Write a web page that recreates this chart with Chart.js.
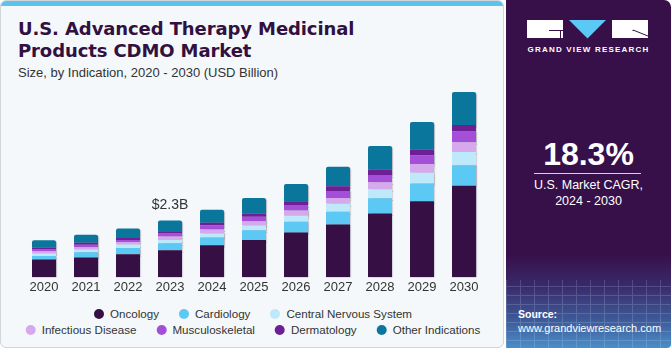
<!DOCTYPE html>
<html>
<head>
<meta charset="utf-8">
<script src="https://cdn.jsdelivr.net/npm/chart.js@4.4.1/dist/chart.umd.min.js"></script>
<style>
  html, body { margin:0; padding:0; width:671px; height:350px; overflow:hidden; background:#ffffff; font-family:"Liberation Sans", Arial, sans-serif; }
  #main { position:absolute; left:0; top:0; width:502px; height:346px; background:#f4f8fb; border:1px solid #d3d6d9; border-radius:6px; overflow:hidden; }
  #stripe { position:absolute; left:0; top:0; width:100%; height:5px; background:#5cc4ec; }
  #title { position:absolute; left:17px; top:17px; font-family:"DejaVu Sans", sans-serif; font-weight:bold; font-size:18px; line-height:21.6px; color:#32103f; white-space:nowrap; letter-spacing:-0.1px; }
  #subtitle { position:absolute; left:17px; top:64px; font-size:13px; line-height:15px; color:#333; white-space:nowrap; }
  #chartwrap { position:absolute; left:0; top:70px; width:500px; height:230px; }
  .lrow { position:absolute; left:252px; transform:translateX(-50%); display:flex; white-space:nowrap; font-size:11.6px; color:#333; }
  .litem { display:flex; align-items:center; margin:0 10px; }
  .dot { width:10px; height:10px; border-radius:50%; margin-right:6px; }
  #side { position:absolute; left:506px; top:0; width:165px; height:348px; border-top-right-radius:7px; border-bottom-right-radius:4px;
          background:linear-gradient(to bottom, #37104a 0px, #37104a 255px, #3a2a6a 285px, #3f5a98 320px, #4b8fc8 348px); overflow:hidden; color:#fff; }
  #grid { position:absolute; left:0; top:280px; width:100%; height:70px; opacity:0.18;
          background-image:repeating-linear-gradient(90deg, #cfe6ff 0 1px, transparent 1px 14px), repeating-linear-gradient(0deg, #cfe6ff 0 1px, transparent 1px 9px); }
  .blk { position:absolute; background:#fff; }
  #gvr { position:absolute; left:0; top:45px; width:165px; text-align:center; font-size:8px; font-weight:bold; letter-spacing:1.2px; }
  #cagr { position:absolute; left:0; top:136px; width:165px; text-align:center; font-size:32px; font-weight:bold; line-height:36px; }
  #cline { position:absolute; left:28px; top:173px; width:107px; height:1px; background:#d8d0e0; }
  #cagrtxt { position:absolute; left:0; top:177px; width:165px; text-align:center; font-size:12.5px; line-height:16px; }
  #src { position:absolute; left:12px; top:308px; font-size:10.5px; font-weight:bold; }
  #url { position:absolute; left:12px; top:322px; font-size:11px; }
</style>
</head>
<body>
<div id="main">
  <div id="stripe"></div>
  <div id="title">U.S. Advanced Therapy Medicinal<br>Products CDMO Market</div>
  <div id="subtitle">Size, by Indication, 2020 - 2030 (USD Billion)</div>
  <div id="chartwrap"><canvas id="c" width="500" height="230"></canvas></div>
  <div class="lrow" id="row1" style="top:306px"></div>
  <div class="lrow" id="row2" style="top:322px"></div>
</div>
<div id="side">
  <div id="grid"></div>
  <div class="blk" style="left:21px; top:20px; width:36px; height:18px;"></div>
  <div style="position:absolute; left:43px; top:30px; width:14px; height:1px; background:#37104a;"></div>
  <div style="position:absolute; left:54px; top:30px; width:1px; height:8px; background:#37104a;"></div>
  <svg style="position:absolute; left:63px; top:20px;" width="38" height="19"><polygon points="0,0 37,0 18.5,18.5" fill="#5bc8f5"/></svg>
  <div class="blk" style="left:106px; top:20px; width:36px; height:18px;"></div>
  <svg style="position:absolute; left:106px; top:20px;" width="36" height="18"><line x1="21" y1="10" x2="36" y2="16" stroke="#37104a" stroke-width="1"/><line x1="21" y1="10" x2="21" y2="11" stroke="#37104a" stroke-width="1"/></svg>
  <div id="gvr">GRAND VIEW RESEARCH</div>
  <div id="cagr">18.3%</div>
  <div id="cline"></div>
  <div id="cagrtxt">U.S. Market CAGR,<br>2024 - 2030</div>
  <div id="src">Source:</div>
  <div id="url">www.grandviewresearch.com</div>
</div>
<script>
const years = ['2020','2021','2022','2023','2024','2025','2026','2027','2028','2029','2030'];
const oncology      = [0.72, 0.80, 0.94, 1.10, 1.30, 1.51, 1.82, 2.14, 2.59, 3.09, 3.71];
const cardiology    = [0.14, 0.22, 0.25, 0.28, 0.31, 0.40, 0.43, 0.52, 0.62, 0.72, 0.84];
const cns           = [0.11, 0.11, 0.14, 0.13, 0.17, 0.19, 0.25, 0.32, 0.36, 0.43, 0.53];
const infectious    = [0.09, 0.09, 0.10, 0.15, 0.16, 0.17, 0.21, 0.24, 0.29, 0.36, 0.40];
const musculo       = [0.07, 0.10, 0.08, 0.12, 0.17, 0.19, 0.22, 0.28, 0.29, 0.35, 0.43];
const dermatology   = [0.08, 0.08, 0.08, 0.09, 0.10, 0.13, 0.16, 0.19, 0.22, 0.23, 0.27];
const other         = [0.29, 0.33, 0.39, 0.43, 0.53, 0.63, 0.69, 0.79, 0.96, 1.12, 1.34];
const seriesNames   = ['Oncology','Cardiology','Central Nervous System','Infectious Disease','Musculoskeletal','Dermatology','Other Indications'];
const seriesColors  = ['#361044','#5cc9f5','#bde9fa','#d6a9ec','#a34fd8','#6e1f96','#0b769c'];
const annotatedYear = '2023';

const seriesData = [oncology, cardiology, cns, infectious, musculo, dermatology, other];
const datasets = seriesNames.map((name, i) => ({
  label: name,
  data: seriesData[i],
  backgroundColor: seriesColors[i],
  borderWidth: 0,
  borderRadius: i === seriesNames.length - 1 ? {topLeft: 2, topRight: 2} : 0,
  borderSkipped: false,
  barPercentage: 0.8,
  categoryPercentage: 0.714
}));

const barShadow = {
  id: 'barShadow',
  beforeDatasetsDraw(chart) {
    const ctx = chart.ctx;
    ctx.save();
    ctx.shadowColor = 'rgba(70,60,90,0.35)';
    ctx.shadowOffsetX = 1;
    ctx.shadowOffsetY = 1;
    ctx.shadowBlur = 1;
  },
  afterDatasetsDraw(chart) {
    chart.ctx.restore();
  }
};

const totalLabel = {
  id: 'totalLabel',
  afterDatasetsDraw(chart) {
    const idx = chart.data.labels.indexOf(annotatedYear);
    if (idx < 0) return;
    let total = 0;
    chart.data.datasets.forEach(ds => total += ds.data[idx]);
    const x = chart.scales.x.getPixelForValue(idx);
    const y = chart.scales.y.getPixelForValue(total);
    const ctx = chart.ctx;
    ctx.save();
    ctx.font = '14px "Liberation Sans", Arial, sans-serif';
    ctx.fillStyle = '#333333';
    ctx.textAlign = 'center';
    ctx.textBaseline = 'middle';
    ctx.fillText('$' + total.toFixed(1) + 'B', x, y - 15);
    ctx.restore();
  }
};

const chart = new Chart(document.getElementById('c'), {
  type: 'bar',
  data: { labels: years, datasets },
  options: {
    responsive: false,
    animation: false,
    devicePixelRatio: 1,
    layout: { padding: { left: 22, right: 16, top: 9.1, bottom: 4.1 } },
    plugins: { legend: { display: false }, tooltip: { enabled: false } },
    scales: {
      x: {
        stacked: true,
        grid: { display: false, drawTicks: false },
        border: { display: false },
        ticks: { padding: 2, color: '#333333', font: { family: '"Liberation Sans", Arial, sans-serif', size: 13 } }
      },
      y: { stacked: true, display: false, min: 0, max: 8 }
    }
  },
  plugins: [barShadow, totalLabel]
});

// HTML legend built from the chart's datasets
const rows = [[0,1,2],[3,4,5,6]];
rows.forEach((r, k) => {
  const el = document.getElementById('row' + (k + 1));
  r.forEach(i => {
    const ds = chart.data.datasets[i];
    const it = document.createElement('div');
    it.className = 'litem';
    const d = document.createElement('span');
    d.className = 'dot';
    d.style.background = ds.backgroundColor;
    const t = document.createElement('span');
    t.textContent = ds.label;
    it.appendChild(d); it.appendChild(t);
    el.appendChild(it);
  });
});
</script>
</body>
</html>
